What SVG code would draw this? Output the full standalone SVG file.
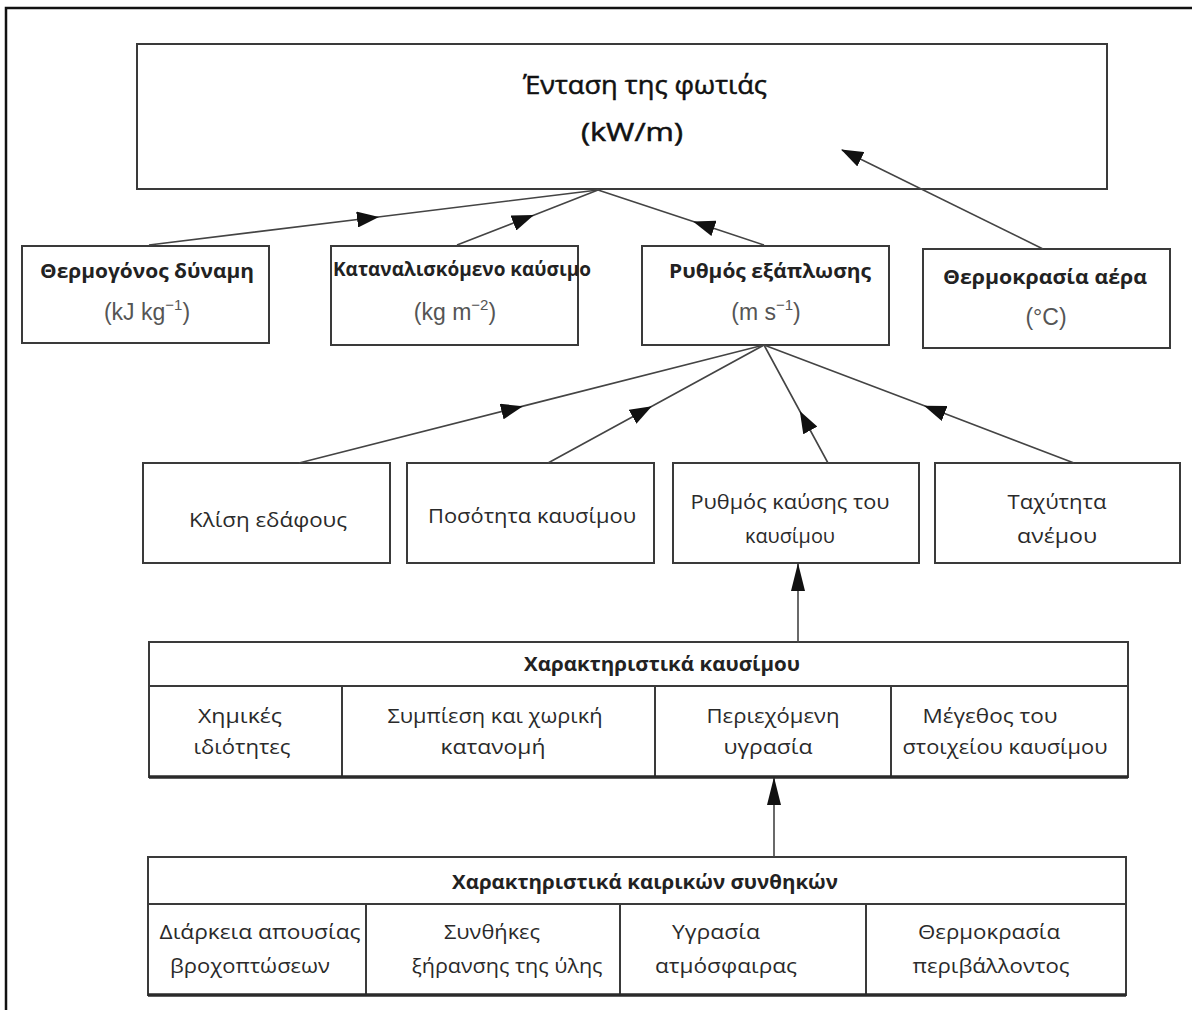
<svg xmlns="http://www.w3.org/2000/svg" width="1192" height="1010" viewBox="0 0 1192 1010">
<defs>
<style>
.box{fill:#fff;stroke:#3a3a3a;stroke-width:2}
.tb{fill:none;stroke:#3a3a3a;stroke-width:2}
.thick{stroke:#2a2a2a;stroke-width:3.5;fill:none}
.con{fill:none;stroke:#444;stroke-width:1.6}
.lbl{font-family:"Open Sans","Noto Sans",sans-serif;font-size:20px;fill:#2a2a2a;text-anchor:middle}
.bold{font-family:"Open Sans","Noto Sans",sans-serif;font-size:19px;font-weight:bold;fill:#222;text-anchor:middle}
.unit{font-family:"Liberation Sans",Arial,sans-serif;font-size:23px;fill:#555;text-anchor:middle}
.title{font-family:"Open Sans","Noto Sans",sans-serif;font-size:25px;fill:#111;stroke:#111;stroke-width:0.5;text-anchor:middle}
</style>
<marker id="arr" markerUnits="userSpaceOnUse" markerWidth="22" markerHeight="16" refX="21" refY="8" orient="auto" viewBox="0 0 22 16">
<path d="M0,0 L22,8 L0,16 z" fill="#111"/>
</marker>
<marker id="arrv" markerUnits="userSpaceOnUse" markerWidth="28" markerHeight="16" refX="27" refY="8" orient="auto" viewBox="0 0 28 16">
<path d="M0,1 L28,8 L0,15 z" fill="#111"/>
</marker>
</defs>
<rect width="1192" height="1010" fill="#fff"/>
<g id="frame">
<path d="M6,1010 L6,8 L1192,8" fill="none" stroke="#111" stroke-width="2.5"/>
</g>

<g id="n-intensity">
<rect class="box" x="137" y="44" width="970" height="145"/>
<text class="title" x="645" y="94" textLength="244" lengthAdjust="spacingAndGlyphs">Ένταση της φωτιάς</text>
<text class="title" x="632" y="141" textLength="102" lengthAdjust="spacingAndGlyphs">(kW/m)</text>
</g>

<g id="n-heat">
<rect class="box" x="22" y="246" width="247" height="97"/>
<text class="bold" x="147" y="278" textLength="214" lengthAdjust="spacingAndGlyphs">Θερμογόνος δύναμη</text>
<text class="unit" x="147" y="320">(kJ kg<tspan font-size="15" dy="-10">−1</tspan><tspan dy="10">)</tspan></text>
</g>

<g id="n-fuelcons">
<rect class="box" x="331" y="246" width="247" height="99"/>
<text class="bold" x="462" y="276" textLength="258" lengthAdjust="spacingAndGlyphs">Καταναλισκόμενο καύσιμο</text>
<text class="unit" x="455" y="320">(kg m<tspan font-size="15" dy="-10">−2</tspan><tspan dy="10">)</tspan></text>
</g>

<g id="n-spread">
<rect class="box" x="642" y="246" width="247" height="99"/>
<text class="bold" x="770" y="278" textLength="202" lengthAdjust="spacingAndGlyphs">Ρυθμός εξάπλωσης</text>
<text class="unit" x="766" y="320">(m s<tspan font-size="15" dy="-10">−1</tspan><tspan dy="10">)</tspan></text>
</g>

<g id="n-airtemp">
<rect class="box" x="923" y="249" width="247" height="99"/>
<text class="bold" x="1045" y="284" textLength="204" lengthAdjust="spacingAndGlyphs">Θερμοκρασία αέρα</text>
<text class="unit" x="1046" y="325">(°C)</text>
</g>

<g id="n-slope">
<rect class="box" x="143" y="463" width="247" height="100"/>
<text class="lbl" x="268" y="527" textLength="158" lengthAdjust="spacingAndGlyphs">Κλίση εδάφους</text>
</g>

<g id="n-fuelqty">
<rect class="box" x="407" y="463" width="247" height="100"/>
<text class="lbl" x="532" y="523" textLength="208" lengthAdjust="spacingAndGlyphs">Ποσότητα καυσίμου</text>
</g>

<g id="n-burnrate">
<rect class="box" x="673" y="463" width="246" height="100"/>
<text class="lbl" x="790" y="509" textLength="199" lengthAdjust="spacingAndGlyphs">Ρυθμός καύσης του</text>
<text class="lbl" x="790" y="543" textLength="90" lengthAdjust="spacingAndGlyphs">καυσίμου</text>
</g>

<g id="n-wind">
<rect class="box" x="935" y="463" width="245" height="100"/>
<text class="lbl" x="1057" y="509" textLength="99" lengthAdjust="spacingAndGlyphs">Ταχύτητα</text>
<text class="lbl" x="1057" y="543" textLength="80" lengthAdjust="spacingAndGlyphs">ανέμου</text>
</g>

<g id="n-fuelchar">
<rect class="tb" x="149" y="642" width="979" height="135"/>
<line class="tb" x1="149" y1="686" x2="1128" y2="686"/>
<line class="tb" x1="342" y1="686" x2="342" y2="777"/>
<line class="tb" x1="655" y1="686" x2="655" y2="777"/>
<line class="tb" x1="891" y1="686" x2="891" y2="777"/>
<line class="thick" x1="149" y1="777" x2="1128" y2="777"/>
<text class="bold" x="662" y="671" textLength="276" lengthAdjust="spacingAndGlyphs">Χαρακτηριστικά καυσίμου</text>
<text class="lbl" x="240" y="723" textLength="84" lengthAdjust="spacingAndGlyphs">Χημικές</text>
<text class="lbl" x="242" y="754" textLength="97" lengthAdjust="spacingAndGlyphs">ιδιότητες</text>
<text class="lbl" x="495" y="723" textLength="215" lengthAdjust="spacingAndGlyphs">Συμπίεση και χωρική</text>
<text class="lbl" x="493" y="754" textLength="105" lengthAdjust="spacingAndGlyphs">κατανομή</text>
<text class="lbl" x="773" y="723" textLength="133" lengthAdjust="spacingAndGlyphs">Περιεχόμενη</text>
<text class="lbl" x="768" y="754" textLength="89" lengthAdjust="spacingAndGlyphs">υγρασία</text>
<text class="lbl" x="990" y="723" textLength="135" lengthAdjust="spacingAndGlyphs">Μέγεθος του</text>
<text class="lbl" x="1005" y="754" textLength="205" lengthAdjust="spacingAndGlyphs">στοιχείου καυσίμου</text>
</g>

<g id="n-weather">
<rect class="tb" x="148" y="857" width="978" height="138"/>
<line class="tb" x1="148" y1="904" x2="1126" y2="904"/>
<line class="tb" x1="366" y1="904" x2="366" y2="995"/>
<line class="tb" x1="620" y1="904" x2="620" y2="995"/>
<line class="tb" x1="866" y1="904" x2="866" y2="995"/>
<line class="thick" x1="148" y1="995" x2="1126" y2="995"/>
<text class="bold" x="645" y="889" textLength="386" lengthAdjust="spacingAndGlyphs">Χαρακτηριστικά καιρικών συνθηκών</text>
<text class="lbl" x="260" y="939" textLength="201" lengthAdjust="spacingAndGlyphs">Διάρκεια απουσίας</text>
<text class="lbl" x="250" y="973" textLength="160" lengthAdjust="spacingAndGlyphs">βροχοπτώσεων</text>
<text class="lbl" x="492" y="939" textLength="96" lengthAdjust="spacingAndGlyphs">Συνθήκες</text>
<text class="lbl" x="507" y="973" textLength="191" lengthAdjust="spacingAndGlyphs">ξήρανσης της ύλης</text>
<text class="lbl" x="716" y="939" textLength="88" lengthAdjust="spacingAndGlyphs">Υγρασία</text>
<text class="lbl" x="726" y="973" textLength="142" lengthAdjust="spacingAndGlyphs">ατμόσφαιρας</text>
<text class="lbl" x="989" y="939" textLength="142" lengthAdjust="spacingAndGlyphs">Θερμοκρασία</text>
<text class="lbl" x="991" y="973" textLength="157" lengthAdjust="spacingAndGlyphs">περιβάλλοντος</text>
</g>

<g id="connectors">
<path class="con" d="M149,245 L378,217 L598,190" marker-mid="url(#arr)"/>
<path class="con" d="M457,245 L533,215.4 L598,190" marker-mid="url(#arr)"/>
<path class="con" d="M764,245 L694,221.8 L598,190" marker-mid="url(#arr)"/>
<path class="con" d="M1043,249 L842,150" marker-end="url(#arr)"/>
<path class="con" d="M299,463 L522,406.4 L764,345" marker-mid="url(#arr)"/>
<path class="con" d="M548,463 L651,406.7 L764,345" marker-mid="url(#arr)"/>
<path class="con" d="M828,463 L800.3,412 L764,345" marker-mid="url(#arr)"/>
<path class="con" d="M1074,463 L925,406 L764,345" marker-mid="url(#arr)"/>
<path class="con" d="M798,643 L798,564" marker-end="url(#arrv)"/>
<path class="con" d="M774,857 L774,778" marker-end="url(#arrv)"/>
</g>
</svg>
